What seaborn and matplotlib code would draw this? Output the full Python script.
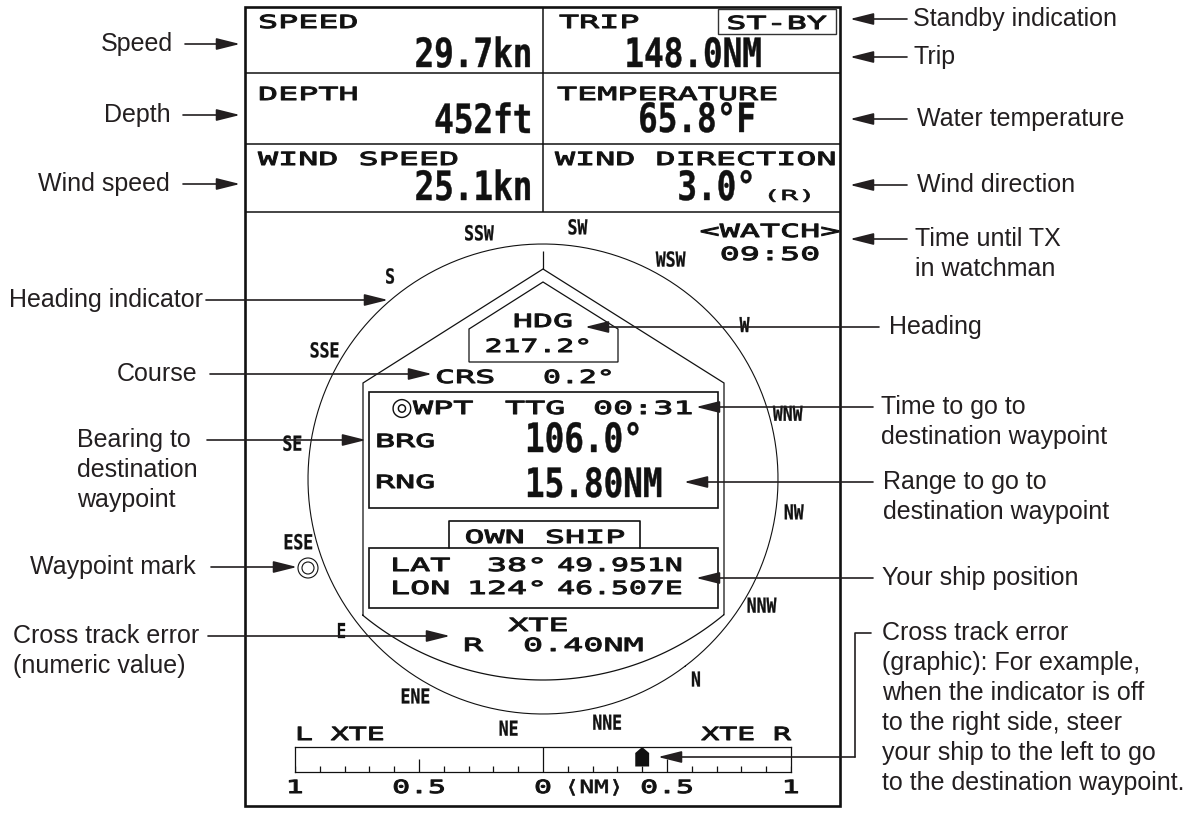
import matplotlib
matplotlib.use("Agg")
import matplotlib.pyplot as plt
import matplotlib.patheffects as pe
from matplotlib.patches import Rectangle, Polygon, Circle
from matplotlib.transforms import Affine2D
import numpy as np
import seaborn as sns

# ---- values shown on the display ----
panel_labels = ["SPEED", "TRIP", "DEPTH", "TEMPERATURE", "WIND SPEED", "WIND DIRECTION"]
panel_values = ["29.7kn", "148.0NM", "452ft", "65.8°F", "25.1kn", "3.0°"]
standby_text = "ST-BY"
wind_ref = "(R)"
watch_title = "<WATCH>"
watch_time = "09:50"

compass_labels = ["N", "NNE", "NE", "ENE", "E", "ESE", "SE", "SSE",
                  "S", "SSW", "SW", "WSW", "W", "WNW", "NW", "NNW"]
compass_bearings = [0, 22.5, 45, 67.5, 90, 112.5, 135, 157.5,
                    180, 202.5, 225, 247.5, 270, 292.5, 315, 337.5]
heading = 217.2
course = 0.2
wpt_ttg = "00:31"
wpt_brg = 106.0
wpt_rng = 15.80
own_lat = "38° 49.951N"
own_lon = "124° 46.507E"
xte_side = "R"
xte_nm = 0.40
xte_ticks = [-1, -0.5, 0, 0.5, 1]
xte_tick_labels = ["1", "0.5", "0", "0.5", "1"]

left_notes = ["Speed", "Depth", "Wind speed", "Heading indicator", "Course",
              "Bearing to\ndestination\nwaypoint", "Waypoint mark",
              "Cross track error\n(numeric value)"]
right_notes = ["Standby indication", "Trip", "Water temperature", "Wind direction",
               "Time until TX\nin watchman", "Heading",
               "Time to go to\ndestination waypoint",
               "Range to go to\ndestination waypoint", "Your ship position",
               "Cross track error\n(graphic): For example,\nwhen the indicator is off\n"
               "to the right side, steer\nyour ship to the left to go\n"
               "to the destination waypoint."]

sns.set_theme(style="white")
plt.rcParams["font.family"] = ["Liberation Sans", "DejaVu Sans"]

INK = "#111111"
NOTE_INK = "#231f20"
MONO = ["DejaVu Sans Mono", "DejaVu Sans"]


class Stretch(pe.AbstractPathEffect):
    """widen / narrow glyphs to mimic the LCD bitmap fonts"""
    def __init__(self, sx, anchor="left", bold=0.0):
        super().__init__()
        self.sx, self.anchor, self.bold = sx, anchor, bold

    def draw_path(self, renderer, gc, tpath, affine, rgbFace=None):
        ext = tpath.get_extents()
        x0 = {"left": 0.0, "center": (ext.x0 + ext.x1) / 2, "right": ext.x1}[self.anchor]
        tr = Affine2D().translate(-x0, 0).scale(self.sx, 1).translate(x0, 0) + affine
        gc0 = renderer.new_gc()
        gc0.copy_properties(gc)
        if self.bold:
            gc0.set_linewidth(self.bold)
            gc0.set_foreground(rgbFace)
        renderer.draw_path(gc0, tpath, tr, rgbFace)
        gc0.restore()


STYLES = {
    "lcd": (13, "normal", 1.85, 0.75),
    "tight": (13, "normal", 1.65, 0.75),
    "nm": (13, "normal", 1.35, 0.5),
    "small": (10, "normal", 2.1, 0.5),
    "big": (29, "bold", 0.81, 0.3),
    "rose": (14.8, "bold", 0.8, 0.2),
}


def lcd(ax, x, y, s, kind="lcd", ha="left", va="baseline", **kw):
    size, weight, sx, bold = STYLES[kind]
    return ax.text(x, y, s, ha=ha, va=va, family=MONO, fontsize=size,
                   fontweight=weight, color=INK, clip_on=False,
                   path_effects=[Stretch(sx, ha, bold)], **kw)


W, H = 1194, 813
fig = plt.figure(figsize=(W / 100, H / 100), dpi=100)
fig.patch.set_facecolor("white")

# compass rose (polar axes, rotated so the heading is up)
cx, cy, rad = 543, 479, 235
axp = fig.add_axes([(cx - rad) / W, 1 - (cy + rad) / H, 2 * rad / W, 2 * rad / H],
                   projection="polar")
axp.set_theta_zero_location("N", offset=heading)
axp.set_theta_direction(-1)
axp.set_ylim(0, 1)
axp.grid(False)
axp.set_xticks([])
axp.set_yticks([])
axp.set_facecolor("none")
for s in axp.spines.values():
    s.set_visible(False)
ring = np.linspace(0, 2 * np.pi, 721)
axp.plot(ring, np.ones_like(ring), color=INK, lw=0.8, clip_on=False)
for lab, b in zip(compass_labels, compass_bearings):
    lcd(axp, np.deg2rad(b), 253 / rad, lab, kind="rose", ha="center", va="center")

# cross-track bar
bx0, bx1, by0, by1 = 295, 791, 747, 772
axb = fig.add_axes([bx0 / W, 1 - by1 / H, (bx1 - bx0) / W, (by1 - by0) / H])
axb.set_xlim(-1, 1)
axb.set_ylim(0, 1)
axb.set_xticks([])
axb.set_yticks([])
axb.set_facecolor("none")
for s in axb.spines.values():
    s.set_linewidth(0.9)
    s.set_color(INK)
ticks = np.round(np.arange(-1, 1.001, 0.1), 1)
tick_h = np.where(ticks == 0, 1.0, np.where(np.isclose(np.abs(ticks), 0.5), 0.52, 0.24))
axb.vlines(ticks, 0, tick_h, color=INK, lw=0.9)
hw = 0.028
sign = 1 if xte_side == "R" else -1
mx = sign * xte_nm
axb.add_patch(Polygon([(mx - hw, 0.22), (mx + hw, 0.22), (mx + hw, 0.76),
                       (mx, 1.0), (mx - hw, 0.76)], closed=True, color=INK, lw=0))
for v, lab in zip(xte_ticks, xte_tick_labels):
    lcd(axb, v, -0.84, lab, kind="tight", ha="center")
lcd(axb, 0.206, -0.84, "⟨NM⟩", kind="nm", ha="center")
lcd(axb, -1, 1.28, "L XTE", kind="tight", ha="left")
lcd(axb, 1, 1.28, "XTE R", kind="tight", ha="right")

# main pixel axes on top
ax = fig.add_axes([0, 0, 1, 1])
ax.set_xlim(0, W)
ax.set_ylim(H, 0)
ax.axis("off")
ax.set_zorder(5)
ax.patch.set_visible(False)

ax.add_patch(Rectangle((245, 7), 595, 799, fill=False, lw=1.9, ec=INK))
ax.hlines([73, 144, 212], 245, 840, color=INK, lw=1.1)
ax.vlines(543, 7, 212, color=INK, lw=1.1)

label_pos = [(258, 28), (559, 28), (258, 100), (557, 100), (258, 165), (555, 165)]
value_pos = [(533, 67, "right"), (693, 67, "center"), (533, 133, "right"),
             (697, 132, "center"), (533, 200, "right"), (757, 200, "right")]
for lab, (x, y) in zip(panel_labels, label_pos):
    lcd(ax, x, y, lab)
for val, (x, y, ha) in zip(panel_values, value_pos):
    lcd(ax, x, y, val, kind="big", ha=ha)
ax.add_patch(Rectangle((718, 9), 118, 25, fill=False, lw=1.0, ec="#333333"))
lcd(ax, 777, 29, standby_text, ha="center")
lcd(ax, 763, 200, wind_ref, kind="small")
lcd(ax, 770, 237, watch_title, ha="center")
lcd(ax, 770, 260, watch_time, ha="center")

# heading indicator outline
sh_y, side_y, bot_y, lx, rx = 383, 615, 680, 363, 724
half = (rx - lx) / 2
sag = bot_y - side_y
R = (half ** 2 + sag ** 2) / (2 * sag)
t0 = np.arcsin(half / R)
t = np.linspace(t0, -t0, 80)
arc_x = cx + R * np.sin(t)
arc_y = (bot_y - R) + R * np.cos(t)
outline = np.vstack([[[cx, 269], [rx, sh_y], [rx, side_y]],
                     np.column_stack([arc_x, arc_y]),
                     [[lx, side_y], [lx, sh_y]]])
ax.add_patch(Polygon(outline, closed=True, fill=False, lw=0.9, ec=INK))
ax.vlines(cx, 251, 269, color=INK, lw=0.9)
ax.add_patch(Polygon([(543, 282), (618, 329), (618, 362), (469, 362), (469, 329)],
                     closed=True, fill=False, lw=0.9, ec=INK))
lcd(ax, 543, 327, "HDG", ha="center")
lcd(ax, 538, 352, f"{heading:.1f}°", kind="tight", ha="center")
lcd(ax, 435, 383, "CRS")
lcd(ax, 543, 383, f"{course:.1f}°", kind="tight")

# waypoint box
ax.add_patch(Rectangle((369, 392), 349, 116, fill=False, lw=1.2, ec=INK))
ax.text(391, 415, "◎", ha="left", va="baseline", family="DejaVu Sans",
        fontsize=18, color=INK)
lcd(ax, 413, 414, "WPT")
lcd(ax, 505, 414, "TTG")
lcd(ax, 593, 414, wpt_ttg)
lcd(ax, 375, 447, "BRG")
lcd(ax, 525, 452, f"{wpt_brg:.1f}°", kind="big")
lcd(ax, 375, 488, "RNG")
lcd(ax, 525, 497, f"{wpt_rng:.2f}NM", kind="big")

# own ship box
ax.add_patch(Rectangle((369, 548), 349, 60, fill=False, lw=1.2, ec=INK))
ax.plot([449, 449, 640, 640], [548, 521, 521, 548], color=INK, lw=1.2)
lcd(ax, 545, 543, "OWN SHIP", ha="center")
for row, (lab, pos) in enumerate([("LAT", own_lat), ("LON", own_lon)]):
    yb = 571 + 23 * row
    deg, mins = pos.split(" ")
    lcd(ax, 390, yb, lab)
    lcd(ax, 545, yb, deg, ha="right")
    lcd(ax, 682, yb, mins, kind="tight", ha="right")
lcd(ax, 538, 631, "XTE", ha="center")
lcd(ax, 463, 651, xte_side)
lcd(ax, 523, 651, f"{xte_nm:.2f}NM")

# waypoint mark
ax.add_patch(Circle((308, 568), 10, fill=False, lw=0.8, ec=INK))
ax.add_patch(Circle((308, 568), 6, fill=False, lw=0.8, ec=INK))


# ---- call-outs ----
def note(x, y, text, ha):
    for i, line in enumerate(text.split("\n")):
        ax.text(x, y + i * 30, line, ha=ha, va="center", fontsize=18, color=NOTE_INK)


def arrow(tail, tip):
    ax.annotate("", xy=tip, xytext=tail, annotation_clip=False,
                arrowprops=dict(arrowstyle="-|>,head_length=1.2,head_width=0.3",
                                mutation_scale=12, lw=1.2, color=NOTE_INK,
                                shrinkA=0, shrinkB=0))


left_layout = [(173, 44, "right", 185, (240, 44)),
               (171, 115, "right", 183, (240, 115)),
               (170, 184, "right", 183, (240, 184)),
               (203, 300, "right", 206, (388, 300)),
               (197, 374, "right", 210, (432, 374)),
               (77, 440, "left", 207, (366, 440)),
               (196, 567, "right", 211, (297, 567)),
               (13, 636, "left", 208, (450, 636))]
for text, (x, y, ha, x_line, tip) in zip(left_notes, left_layout):
    note(x, y, text, ha)
    arrow((x_line, tip[1]), tip)

right_layout = [(913, 19, 907, (850, 19)),
                (913, 57, 907, (850, 57)),
                (917, 119, 907, (850, 119)),
                (917, 185, 907, (850, 185)),
                (915, 239, 907, (850, 239)),
                (889, 327, 879, (585, 327)),
                (881, 407, 873, (696, 407)),
                (883, 482, 873, (684, 482)),
                (882, 578, 873, (696, 578))]
for text, (x, y, x_line, tip) in zip(right_notes[:-1], right_layout):
    note(x, y, text, "left")
    arrow((x_line, tip[1]), tip)

note(882, 633, right_notes[-1], "left")
ax.plot([871, 855, 855], [633, 633, 757], color=NOTE_INK, lw=1.2)
arrow((855, 757), (658, 757))

fig.savefig("out.png", dpi=100)
